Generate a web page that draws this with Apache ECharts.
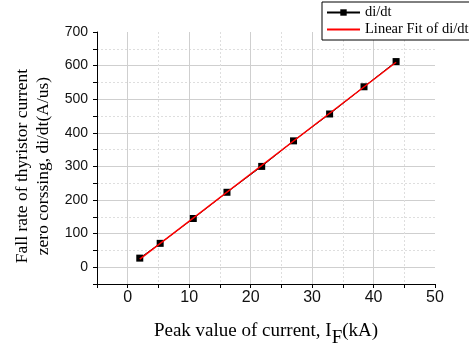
<!DOCTYPE html>
<html><head><meta charset="utf-8">
<script src="https://cdn.jsdelivr.net/npm/echarts@6/dist/echarts.min.js"></script>
<style>html,body{margin:0;padding:0;background:#fff}#c{width:469px;height:347px}</style>
</head><body><div id="c"></div>
<script>
const xVals = [1.96, 5.28, 10.67, 16.15, 21.8, 26.98, 32.85, 38.45, 43.67];
const yVals = [27, 71, 145, 223, 300, 376, 456, 537, 612];
const fitX = [1.96, 43.67];
const fitY = [24, 610];
const xTickLabels = [0, 10, 20, 30, 40, 50];
const yTickLabels = [0, 100, 200, 300, 400, 500, 600, 700];

const serif = 'Liberation Serif';
const sans = 'Liberation Sans';
const chart = echarts.init(document.getElementById('c'));
const majorColor = '#cfcfcf', minorColor = '#dedede';
function baseAxis(min, max, interval, labels) {
  return {
    type: 'value', min: min, max: max, interval: interval,
    axisLine: {show: true, onZero: false, lineStyle: {color: '#000', width: 1}},
    axisTick: {show: true, length: 4, lineStyle: {color: '#000'}},
    axisLabel: {fontFamily: sans, fontSize: 14, color: '#111',
      formatter: v => labels.indexOf(v) >= 0 ? String(v) : ''},
    splitLine: {show: true, showMinLine: false, showMaxLine: false,
      lineStyle: {color: ['transparent', minorColor], type: [2, 2], width: 1}}
  };
}
function gridAxis(min, max, interval, pos) {
  return {
    type: 'value', min: min, max: max, interval: interval, position: pos,
    axisLine: {show: false}, axisTick: {show: false}, axisLabel: {show: false},
    splitLine: {show: true, showMinLine: false, showMaxLine: false,
      lineStyle: {color: [majorColor, 'transparent'], width: 1}}
  };
}
const xa = baseAxis(-5, 50, 5, xTickLabels);
xa.position = 'bottom';
xa.axisLabel.margin = 6;
xa.axisLabel.fontSize = 16;
xa.name = '{a|Peak value of current, I}{s|F}{a|(kA)}';
xa.nameLocation = 'middle';
xa.nameGap = 30;
xa.nameTextStyle = {color: '#000', fontFamily: serif, fontSize: 19,
  rich: {a: {fontFamily: serif, fontSize: 19, color: '#000'},
         s: {fontFamily: serif, fontSize: 19, color: '#000', padding: [15, 0, 0, 0]}}};
const ya = baseAxis(-50, 700, 50, yTickLabels);
ya.position = 'left';
ya.axisLabel.margin = 9;
ya.name = 'Fall rate of thyristor current\nzero corssing, di/dt(A/us)';
ya.nameLocation = 'middle';
ya.nameGap = 43;
ya.nameTextStyle = {color: '#000', fontFamily: serif, fontSize: 17.5, lineHeight: 21,
  padding: [0, 16, 0, 0]};

chart.setOption({
  animation: false,
  backgroundColor: '#fff',
  grid: {left: 97, right: 34, top: 32, bottom: 63, containLabel: false, outerBoundsMode: 'none'},
  legend: {
    left: 322, top: 2, orient: 'vertical', itemGap: 2,
    padding: [3, 6, 3, 4],
    backgroundColor: '#fff', borderColor: '#000', borderWidth: 1,
    itemWidth: 33, itemHeight: 8,
    textStyle: {fontFamily: serif, fontSize: 14.5, color: '#000'},
    data: [
      {name: 'di/dt'},
      {name: 'Linear Fit of di/dt', itemStyle: {opacity: 0}}
    ]
  },
  xAxis: [xa, gridAxis(-5, 50, 5, 'bottom')],
  yAxis: [ya, gridAxis(-50, 700, 50, 'left')],
  series: [
    {name: 'di/dt', type: 'line', xAxisIndex: 0, yAxisIndex: 0,
     data: xVals.map((x, i) => [x, yVals[i]]),
     symbol: 'rect', symbolSize: 7, showAllSymbol: true,
     itemStyle: {color: '#000'}, lineStyle: {color: '#000', width: 1}, z: 3},
    {name: 'Linear Fit of di/dt', type: 'line', xAxisIndex: 0, yAxisIndex: 0,
     data: fitX.map((x, i) => [x, fitY[i]]),
     symbol: 'none', itemStyle: {color: '#ff0000'}, lineStyle: {color: '#ff0000', width: 1.5}, z: 4}
  ]
});
</script></body></html>
